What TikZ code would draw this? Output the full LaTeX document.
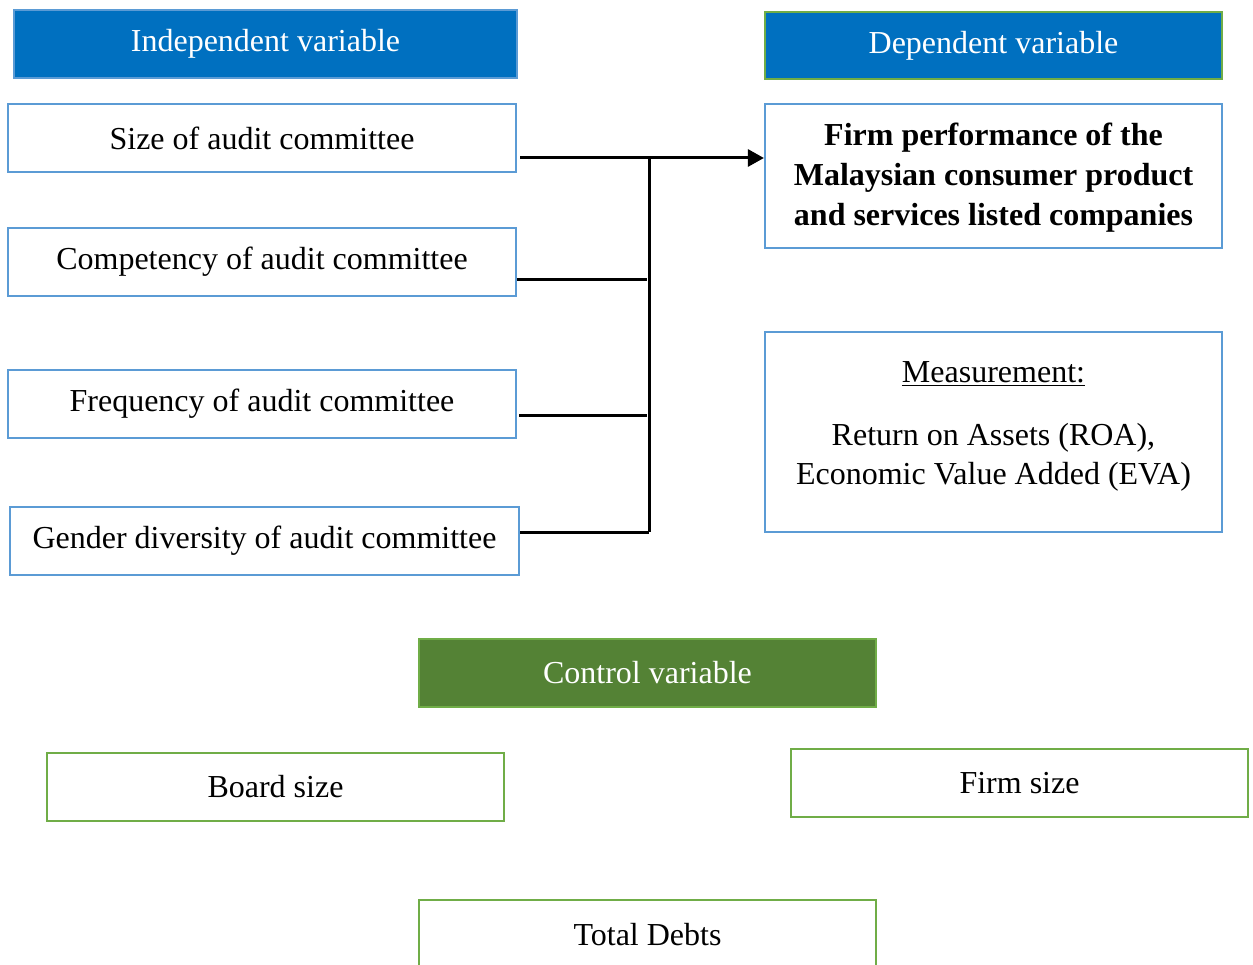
\documentclass[tikz,border=0pt]{standalone}
\usepackage{fontspec}
\setmainfont{Liberation Serif}
\usetikzlibrary{arrows.meta}
\definecolor{hdrblue}{HTML}{0070C0}
\definecolor{lineblue}{HTML}{5B9BD5}
\definecolor{linegreen}{HTML}{70AD47}
\definecolor{hdrgreen}{HTML}{548235}
\tikzset{
  txt/.style={font=\fontsize{32}{40}\selectfont},
  bluebox/.style={draw=lineblue, line width=2.2pt, fill=white, inner sep=0pt, txt, align=center},
  greenbox/.style={draw=linegreen, line width=2.2pt, fill=white, inner sep=0pt, txt, align=center},
  bluehdr/.style={draw=lineblue, line width=2.2pt, fill=hdrblue, text=white, inner sep=0pt, txt},
  bluehdrg/.style={draw=linegreen, line width=2.2pt, fill=hdrblue, text=white, inner sep=0pt, txt},
  greenhdr/.style={draw=linegreen, line width=2.2pt, fill=hdrgreen, text=white, inner sep=0pt, txt},
  conn/.style={line width=3pt, black},
}
\begin{document}
\begin{tikzpicture}[x=1pt,y=-1pt]
\useasboundingbox (0,0) rectangle (1253,965);
\clip (0,0) rectangle (1253,965);
% headers
\node[bluehdr, minimum width=503pt, minimum height=68pt] (ihdr) at (265.5,44) {Independent variable};
\node[bluehdrg, minimum width=457pt, minimum height=67pt] (dhdr) at (993.5,45.5) {Dependent variable};
\node[greenhdr, minimum width=457pt, minimum height=68pt] (chdr) at (647.5,673) {Control variable};
% independent variables
\node[bluebox, minimum width=508pt, minimum height=68pt] (size) at (262,138) {Size of audit committee};
\node[bluebox, minimum width=508pt, minimum height=68pt] (comp) at (262,262) {Competency of audit committee};
\node[bluebox, minimum width=508pt, minimum height=68pt] (freq) at (262,404) {Frequency of audit committee};
\node[bluebox, minimum width=509pt, minimum height=68pt] (gend) at (264.5,541) {Gender diversity of audit committee};
% dependent
\node[bluebox, minimum width=457pt, minimum height=144pt] (perf) at (993.5,176) {};
\node[font=\fontsize{32}{40}\selectfont\bfseries, inner sep=0pt, align=center] (perft) at (993.5,178) {Firm performance of the\\Malaysian consumer product\\and services listed companies};
\node[bluebox, minimum width=457pt, minimum height=200pt] (meas) at (993.5,432) {};
\node[txt, inner sep=0pt, anchor=base] (meast) at (993.5,383) {\underline{Measurement:}};
\node[font=\fontsize{32}{39}\selectfont, inner sep=0pt, anchor=base, align=center] (measv) at (993.5,484) {Return on Assets (ROA),\\Economic Value Added (EVA)};
% control variables
\node[greenbox, minimum width=457pt, minimum height=68pt] (board) at (275.5,787) {Board size};
\node[greenbox, minimum width=457pt, minimum height=68pt] (fsize) at (1019.5,783) {Firm size};
\node[greenbox, minimum width=457pt, minimum height=70pt] (debt) at (647.5,935) {Total Debts};
% connectors
\coordinate (j1) at (649,158);
\coordinate (j4) at (649,532);
\draw[conn] ([xshift=3pt]size.east |- j1) -- (j1);
\draw[conn, -{Triangle[length=16pt,width=17pt]}] (j1) -- (perf.west |- j1);
\draw[conn] (j1) -- (j4);
\draw[conn] (comp.east |- 0,280) -- (647,280);
\draw[conn] ([xshift=2pt]freq.east |- 0,416) -- (647,416);
\draw[conn] (gend.east |- j4) -- (j4);
\end{tikzpicture}
\end{document}
